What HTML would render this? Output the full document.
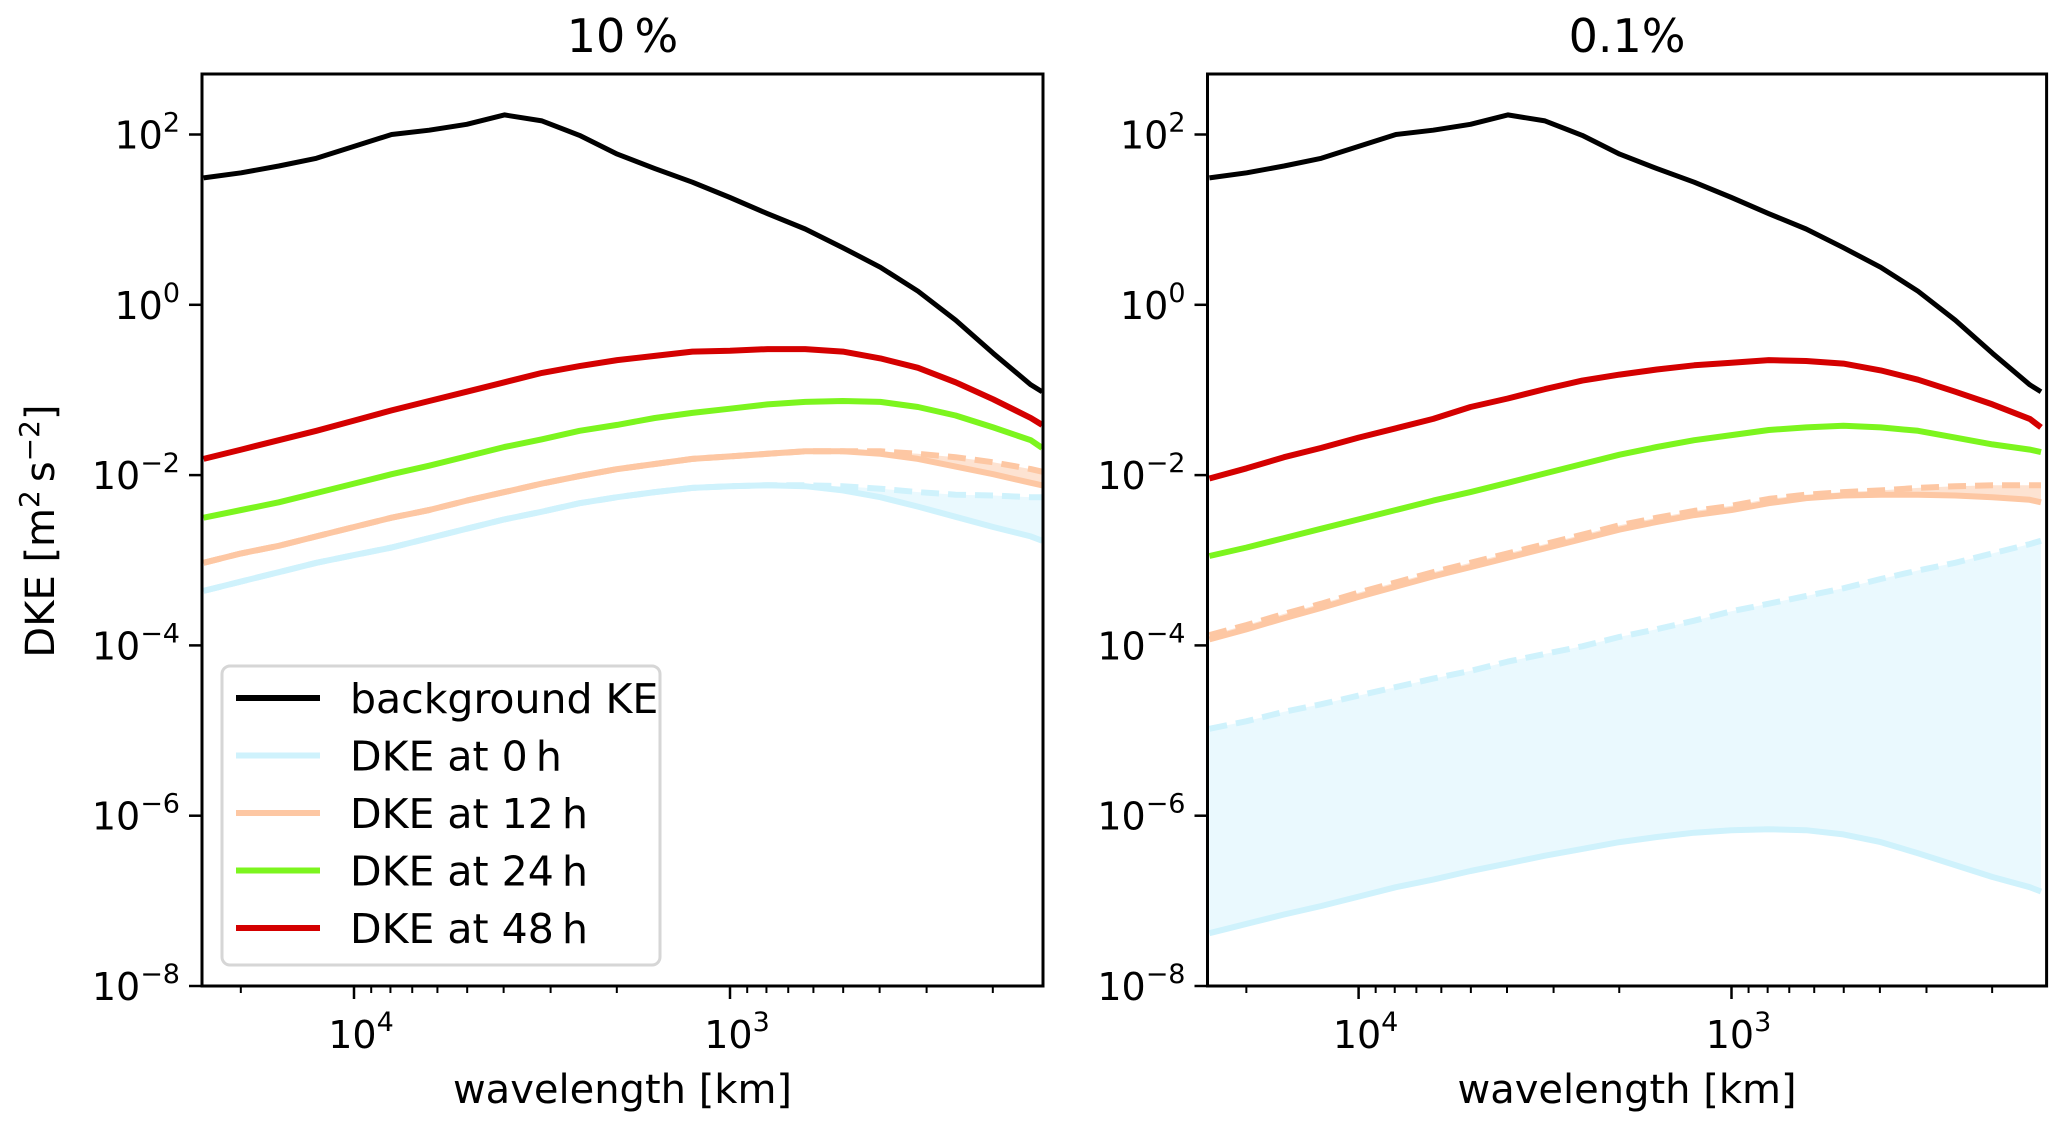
<!DOCTYPE html>
<html><head><meta charset="utf-8">
<style>
html,body{margin:0;padding:0;background:#fff;}
svg{display:block;font-family:"DejaVu Sans","Liberation Sans",sans-serif;}
</style></head>
<body>
<svg id="fig" width="2067" height="1128" viewBox="0 0 2067 1128" xmlns="http://www.w3.org/2000/svg"></svg>
<script>
// wavelength grid, log10(km)
const logWavelength = [4.4,4.3,4.2,4.1,4.0,3.9,3.8,3.7,3.6,3.5,3.4,3.3,3.2,3.1,3.0,2.9,2.8,2.7,2.6,2.5,2.4,2.3,2.2,2.17];
// log10 DKE values [m^2 s^-2]
const backgroundKE = [1.49,1.55,1.63,1.72,1.86,2.0,2.05,2.12,2.23,2.16,1.99,1.77,1.60,1.44,1.26,1.07,0.89,0.67,0.44,0.16,-0.18,-0.57,-0.94,-1.02];
// panel 10%
const p10_h48 = [-1.81,-1.70,-1.59,-1.48,-1.36,-1.24,-1.13,-1.02,-0.91,-0.80,-0.72,-0.65,-0.60,-0.55,-0.54,-0.52,-0.52,-0.55,-0.63,-0.74,-0.91,-1.11,-1.33,-1.41];
const p10_h24 = [-2.50,-2.41,-2.32,-2.21,-2.10,-1.99,-1.89,-1.78,-1.67,-1.58,-1.48,-1.41,-1.33,-1.27,-1.22,-1.17,-1.14,-1.13,-1.14,-1.20,-1.30,-1.44,-1.59,-1.68];
const p10_h12 = [-3.03,-2.92,-2.83,-2.72,-2.61,-2.50,-2.41,-2.30,-2.20,-2.10,-2.01,-1.93,-1.87,-1.81,-1.78,-1.75,-1.72,-1.72,-1.75,-1.81,-1.90,-1.99,-2.09,-2.12];
const p10_h12_ref = [-3.03,-2.92,-2.83,-2.72,-2.61,-2.50,-2.41,-2.30,-2.20,-2.10,-2.01,-1.93,-1.87,-1.81,-1.78,-1.75,-1.72,-1.72,-1.72,-1.75,-1.79,-1.85,-1.93,-1.96];
const p10_h0 = [-3.36,-3.25,-3.14,-3.03,-2.94,-2.85,-2.74,-2.63,-2.52,-2.43,-2.33,-2.26,-2.20,-2.15,-2.13,-2.12,-2.13,-2.18,-2.26,-2.37,-2.49,-2.61,-2.72,-2.77];
const p10_h0_ref = [-3.36,-3.25,-3.14,-3.03,-2.94,-2.85,-2.74,-2.63,-2.52,-2.43,-2.33,-2.26,-2.20,-2.15,-2.13,-2.12,-2.12,-2.13,-2.16,-2.20,-2.23,-2.24,-2.26,-2.26];
// panel 0.1%
const p01_h48 = [-2.04,-1.92,-1.79,-1.68,-1.56,-1.45,-1.34,-1.20,-1.10,-0.99,-0.89,-0.82,-0.76,-0.71,-0.68,-0.65,-0.66,-0.69,-0.77,-0.88,-1.02,-1.17,-1.34,-1.44];
const p01_h24 = [-2.95,-2.85,-2.74,-2.63,-2.52,-2.41,-2.30,-2.20,-2.09,-1.98,-1.87,-1.76,-1.67,-1.59,-1.53,-1.47,-1.44,-1.42,-1.44,-1.48,-1.56,-1.64,-1.70,-1.73];
const p01_h12 = [-3.93,-3.81,-3.68,-3.56,-3.43,-3.31,-3.19,-3.08,-2.97,-2.86,-2.75,-2.64,-2.55,-2.47,-2.41,-2.33,-2.27,-2.24,-2.23,-2.23,-2.24,-2.26,-2.29,-2.32];
const p01_h12_ref = [-3.88,-3.76,-3.63,-3.51,-3.38,-3.26,-3.14,-3.03,-2.92,-2.81,-2.70,-2.59,-2.50,-2.42,-2.36,-2.28,-2.23,-2.20,-2.18,-2.15,-2.13,-2.12,-2.12,-2.12];
const p01_h0 = [-7.38,-7.27,-7.16,-7.06,-6.95,-6.84,-6.75,-6.65,-6.56,-6.47,-6.39,-6.31,-6.25,-6.20,-6.17,-6.16,-6.17,-6.22,-6.31,-6.44,-6.58,-6.72,-6.84,-6.89];
const p01_h0_ref = [-4.98,-4.89,-4.78,-4.69,-4.59,-4.49,-4.39,-4.30,-4.19,-4.10,-4.01,-3.90,-3.81,-3.71,-3.60,-3.51,-3.42,-3.33,-3.22,-3.12,-3.03,-2.92,-2.81,-2.77];
const yTickExps = [2,0,-2,-4,-6,-8];
const xTickExps = [4,3];
const legendLabels = ["background KE","DKE at 0\u2009h","DKE at 12\u2009h","DKE at 24\u2009h","DKE at 48\u2009h"];

const NS="http://www.w3.org/2000/svg";
const svg=document.getElementById('fig');
function mk(tag,attrs,parent){const e=document.createElementNS(NS,tag);for(const k in attrs)e.setAttribute(k,attrs[k]);(parent||svg).appendChild(e);return e;}
const COL={bg:"#000000",h0:"#cff2fc",h12:"#fdc7a3",h24:"#7cf51e",h48:"#d40000"};
const FILL={h0:"#eaf9fe",h12:"#fde3d2"};

function panel(id,left,right,xd4,xd3,title,series){
  const top=74,bottom=986;
  const ymap=v=>bottom-(v+8)*(bottom-134.5)/10;
  const dec=xd3-xd4;
  const xmap=L=>xd4+(4-L)*dec;
  const g=mk('g',{});
  
  
  const cp=mk('clipPath',{id:'clip-'+id},g);
  mk('rect',{x:left,y:top,width:right-left,height:bottom-top},cp);
  const plot=mk('g',{'clip-path':'url(#clip-'+id+')'},g);
  function pts(arr){return logWavelength.map((L,i)=>xmap(L).toFixed(1)+','+ymap(arr[i]).toFixed(1));}
  series.fills.forEach(f=>{
    const p=pts(f.a).concat(pts(f.b).reverse());
    const e=mk('polygon',{points:p.join(' '),fill:f.color,stroke:'none'},plot);
    
    
  });
  series.lines.forEach(s=>{
    const e=mk('polyline',{points:pts(s.a).join(' '),fill:'none',stroke:s.color,'stroke-width':s.w||6,'stroke-linejoin':'round','stroke-dasharray':s.dash||'none'},plot);
    
    
  });
  const fr=mk('rect',{x:left,y:top,width:right-left,height:bottom-top,fill:'none',stroke:'#000','stroke-width':3},g);
  
  
  const yax=mk('g',{},g);
  
  
  yTickExps.forEach(ex=>{
    const y=ymap(ex);
    mk('line',{x1:left-13,x2:left,y1:y,y2:y,stroke:'#000','stroke-width':2.5},yax);
    const t=mk('text',{x:left-22,y:y+14,'font-size':38,'text-anchor':'end',fill:'#000'},yax);
    
    
    t.appendChild(document.createTextNode('10'));
    const s=mk('tspan',{dy:-17,'font-size':27},t);
    s.textContent=(ex<0?'\u2212':'')+Math.abs(ex);
  });
  const xax=mk('g',{},g);
  
  
  xTickExps.forEach(ex=>{
    const x=xmap(ex);
    mk('line',{x1:x,x2:x,y1:bottom,y2:bottom+13,stroke:'#000','stroke-width':2.5},xax);
    const t=mk('text',{x:x+7,y:bottom+62,'font-size':38,'text-anchor':'middle',fill:'#000'},xax);
    
    
    t.appendChild(document.createTextNode('10'));
    const s=mk('tspan',{dy:-17,'font-size':27},t);
    s.textContent=String(ex);
  });
  [4,3,2].forEach(ex=>{for(let m=2;m<=9;m++){const L=ex+Math.log10(m);const x=xmap(L);if(x>left+1&&x<right-1)mk('line',{x1:x,x2:x,y1:bottom,y2:bottom+7,stroke:'#000','stroke-width':2},xax);}});
  const xl=mk('text',{x:(left+right)/2,y:1103,'font-size':40,'text-anchor':'middle',fill:'#000'},g);
  xl.textContent='wavelength [km]';
  
  
  const tt=mk('text',{x:(left+right)/2,y:52,'font-size':46,'text-anchor':'middle',fill:'#000'},g);
  tt.textContent=title;
  
  
}

panel('left',202,1043,354,730,'10\u2009%',{
  fills:[{a:p10_h0,b:p10_h0_ref,color:FILL.h0,name:'fill-0h'},{a:p10_h12,b:p10_h12_ref,color:FILL.h12,name:'fill-12h'}],
  lines:[
    {a:p10_h0_ref,color:COL.h0,dash:'18 9',name:'line-0h-dashed'},
    {a:p10_h0,color:COL.h0,name:'line-0h'},
    {a:p10_h12_ref,color:COL.h12,dash:'18 9',name:'line-12h-dashed'},
    {a:p10_h12,color:COL.h12,name:'line-12h'},
    {a:p10_h24,color:COL.h24,name:'line-24h'},
    {a:p10_h48,color:COL.h48,name:'line-48h'},
    {a:backgroundKE,color:COL.bg,w:5,name:'line-background-ke'}]
});
panel('right',1207.5,2046.6,1358.6,1731.5,'0.1%',{
  fills:[{a:p01_h0,b:p01_h0_ref,color:FILL.h0,name:'fill-0h'},{a:p01_h12,b:p01_h12_ref,color:FILL.h12,name:'fill-12h'}],
  lines:[
    {a:p01_h0_ref,color:COL.h0,dash:'18 9',name:'line-0h-dashed'},
    {a:p01_h0,color:COL.h0,name:'line-0h'},
    {a:p01_h12_ref,color:COL.h12,dash:'18 9',name:'line-12h-dashed'},
    {a:p01_h12,color:COL.h12,name:'line-12h'},
    {a:p01_h24,color:COL.h24,name:'line-24h'},
    {a:p01_h48,color:COL.h48,name:'line-48h'},
    {a:backgroundKE,color:COL.bg,w:5,name:'line-background-ke'}]
});

const yl=mk('text',{x:0,y:0,'font-size':40,'text-anchor':'middle',fill:'#000',transform:'translate(54,531) rotate(-90)'});


yl.appendChild(document.createTextNode('DKE [m'));
let s1=mk('tspan',{dy:-15,'font-size':28},yl);s1.textContent='2';
let s2=mk('tspan',{dy:15},yl);s2.textContent='\u2009s';
let s3=mk('tspan',{dy:-15,'font-size':28},yl);s3.textContent='\u22122';
let s4=mk('tspan',{dy:15},yl);s4.textContent=']';

const lg=mk('g',{});


mk('rect',{x:222,y:666,width:438,height:299,rx:8,fill:'#fff','fill-opacity':0.85,stroke:'#d6d6d6','stroke-width':3},lg);
const legendColors=[COL.bg,COL.h0,COL.h12,COL.h24,COL.h48];
legendLabels.forEach((lab,i)=>{
  const y=698+i*57.5;
  const ln=mk('line',{x1:236,x2:320,y1:y,y2:y,stroke:legendColors[i],'stroke-width':6},lg);
  
  
  const t=mk('text',{x:350,y:y+15,'font-size':41,fill:'#000'},lg);
  t.textContent=lab;
  
  
});
</script>
</body></html>
